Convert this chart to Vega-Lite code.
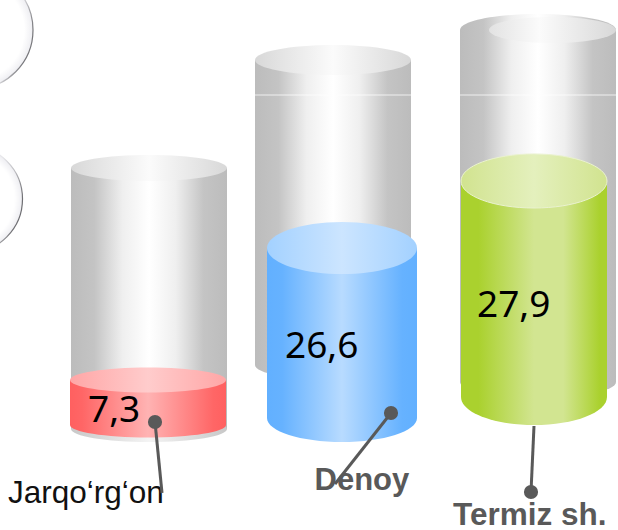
{"$schema":"https://vega.github.io/schema/vega-lite/v6.json","width":618,"height":530,"padding":0,"autosize":"none","background":"white","view":{"stroke":null},
"datasets":{"regions":[
{"region":"Jarqo‘rg‘on","value":7.3,"label":"7,3","grey_top":362,"grey_base":101,"fill_top":150,"fill_base":105,"seam":null},
{"region":"Denoy","value":26.6,"label":"26,6","grey_top":470,"grey_base":165,"fill_top":282,"fill_base":112,"seam":435},
{"region":"Termiz sh.","value":27.9,"label":"27,9","grey_top":500,"grey_base":148,"fill_top":349,"fill_base":133,"seam":435}],
"bubbles":[{"region":"Jarqo‘rg‘on","bubble":"a","level":500},{"region":"Jarqo‘rg‘on","bubble":"b","level":331}]},
"data":{"name":"regions"},
"encoding":{"x":{"field":"region","type":"nominal","axis":null,"scale":{"type":"point","domain":["Jarqo‘rg‘on","Denoy","Termiz sh."],"range":[149,538],"padding":0}}},
"layer":[
{"data":{"name":"bubbles"},"transform":[{"filter":"datum.bubble==='a'"}],"mark":{"type":"point","shape":"M-1,0A1,1 0 1 1 1,0A1,1 0 1 1 -1,0Z","size":13924,"xOffset":-175,"filled":true,"opacity":1,"strokeWidth":1.2,"fill":{"gradient":"radial","stops":[{"offset":0,"color":"#ffffff"},{"offset":0.85,"color":"#ffffff"},{"offset":1,"color":"#eeeef2"}]},"stroke":{"gradient":"linear","x1":0.5,"y1":0.35,"x2":1,"y2":0.5,"stops":[{"offset":0,"color":"#ffffff"},{"offset":0.45,"color":"#f0f0f0"},{"offset":0.75,"color":"#c8c8cc"},{"offset":1,"color":"#77777b"}]}},"encoding":{"y":{"field":"level","type":"quantitative","axis":null,"scale":{"domain":[0,530],"range":[530,0],"nice":false,"zero":false}}}},
{"data":{"name":"bubbles"},"transform":[{"filter":"datum.bubble==='b'"}],"mark":{"type":"point","shape":"M-1,0A1,1 0 1 1 1,0A1,1 0 1 1 -1,0Z","size":11449,"xOffset":-180,"filled":true,"opacity":1,"strokeWidth":1.2,"fill":{"gradient":"radial","stops":[{"offset":0,"color":"#ffffff"},{"offset":0.85,"color":"#ffffff"},{"offset":1,"color":"#eeeef2"}]},"stroke":{"gradient":"linear","x1":0.5,"y1":0.35,"x2":1,"y2":0.5,"stops":[{"offset":0,"color":"#ffffff"},{"offset":0.45,"color":"#e4e4e8"},{"offset":0.75,"color":"#b8b8bc"},{"offset":1,"color":"#6f6f73"}]}},"encoding":{"y":{"field":"level","type":"quantitative","axis":null,"scale":{"domain":[0,530],"range":[530,0],"nice":false,"zero":false}}}},

{"transform":[{"filter":"datum.region==='Jarqo‘rg‘on'"}],"layer":[
{"mark":{"type":"bar","size":156,"fill":{"gradient":"linear","x1":0,"y1":0,"x2":1,"y2":0,"stops":[{"offset":0,"color":"#bcbcbc"},{"offset":0.15,"color":"#c4c4c4"},{"offset":0.33,"color":"#efefef"},{"offset":0.5,"color":"#ffffff"},{"offset":0.67,"color":"#efefef"},{"offset":0.85,"color":"#c4c4c4"},{"offset":1,"color":"#bcbcbc"}]}},"encoding":{"y":{"field":"grey_top","type":"quantitative","axis":null,"scale":{"domain":[0,530],"range":[530,0],"nice":false,"zero":false}},"y2":{"field":"grey_base"}}},
{"mark":{"type":"point","shape":"M-1,0A1,0.167 0 1 1 1,0A1,0.167 0 1 1 -1,0Z","size":24336,"filled":true,"opacity":1,"strokeWidth":0,"fill":{"gradient":"linear","x1":0,"y1":0,"x2":1,"y2":0,"stops":[{"offset":0,"color":"#d8d8d8"},{"offset":0.5,"color":"#fbfbfb"},{"offset":1,"color":"#d8d8d8"}]}},"encoding":{"y":{"field":"grey_top","type":"quantitative","axis":null,"scale":{"domain":[0,530],"range":[530,0],"nice":false,"zero":false}}}},
{"mark":{"type":"point","shape":"M-1,0A1,0.167 0 1 1 1,0A1,0.167 0 1 1 -1,0Z","size":24336,"filled":true,"opacity":1,"strokeWidth":0,"fill":{"gradient":"linear","x1":0,"y1":0,"x2":1,"y2":0,"stops":[{"offset":0,"color":"#c8c8c8"},{"offset":0.5,"color":"#f4f4f4"},{"offset":1,"color":"#c8c8c8"}]}},"encoding":{"y":{"field":"grey_base","type":"quantitative","axis":null,"scale":{"domain":[0,530],"range":[530,0],"nice":false,"zero":false}}}}
]},
{"transform":[{"filter":"datum.region==='Denoy'"}],"layer":[
{"mark":{"type":"bar","size":156,"xOffset":-10.5,"fill":{"gradient":"linear","x1":0,"y1":0,"x2":1,"y2":0,"stops":[{"offset":0,"color":"#bcbcbc"},{"offset":0.15,"color":"#c4c4c4"},{"offset":0.33,"color":"#efefef"},{"offset":0.5,"color":"#ffffff"},{"offset":0.67,"color":"#efefef"},{"offset":0.85,"color":"#c4c4c4"},{"offset":1,"color":"#bcbcbc"}]}},"encoding":{"y":{"field":"grey_top","type":"quantitative","axis":null,"scale":{"domain":[0,530],"range":[530,0],"nice":false,"zero":false}},"y2":{"field":"grey_base"}}},
{"mark":{"type":"point","shape":"M-1,0A1,0.192 0 1 1 1,0A1,0.192 0 1 1 -1,0Z","size":24336,"xOffset":-10.5,"filled":true,"opacity":1,"strokeWidth":0,"fill":{"gradient":"linear","x1":0,"y1":0,"x2":1,"y2":0,"stops":[{"offset":0,"color":"#d8d8d8"},{"offset":0.5,"color":"#fbfbfb"},{"offset":1,"color":"#d8d8d8"}]}},"encoding":{"y":{"field":"grey_top","type":"quantitative","axis":null,"scale":{"domain":[0,530],"range":[530,0],"nice":false,"zero":false}}}},
{"mark":{"type":"point","shape":"M-1,0A1,0.192 0 1 1 1,0A1,0.192 0 1 1 -1,0Z","size":24336,"xOffset":-10.5,"filled":true,"opacity":1,"strokeWidth":0,"fill":{"gradient":"linear","x1":0,"y1":0,"x2":1,"y2":0,"stops":[{"offset":0,"color":"#bcbcbc"},{"offset":0.15,"color":"#c4c4c4"},{"offset":0.33,"color":"#efefef"},{"offset":0.5,"color":"#ffffff"},{"offset":0.67,"color":"#efefef"},{"offset":0.85,"color":"#c4c4c4"},{"offset":1,"color":"#bcbcbc"}]}},"encoding":{"y":{"field":"grey_base","type":"quantitative","axis":null,"scale":{"domain":[0,530],"range":[530,0],"nice":false,"zero":false}}}},
{"mark":{"type":"point","shape":"M-1,0L1,0","size":24336,"xOffset":-10.5,"filled":false,"opacity":0.75,"strokeWidth":1,"stroke":"#ffffff"},"encoding":{"y":{"field":"seam","type":"quantitative","axis":null,"scale":{"domain":[0,530],"range":[530,0],"nice":false,"zero":false}}}}
]},
{"transform":[{"filter":"datum.region==='Termiz sh.'"}],"layer":[
{"mark":{"type":"bar","size":156,"fill":{"gradient":"linear","x1":0,"y1":0,"x2":1,"y2":0,"stops":[{"offset":0,"color":"#bcbcbc"},{"offset":0.15,"color":"#c4c4c4"},{"offset":0.33,"color":"#efefef"},{"offset":0.5,"color":"#ffffff"},{"offset":0.67,"color":"#efefef"},{"offset":0.85,"color":"#c4c4c4"},{"offset":1,"color":"#bcbcbc"}]}},"encoding":{"y":{"field":"grey_top","type":"quantitative","axis":null,"scale":{"domain":[0,530],"range":[530,0],"nice":false,"zero":false}},"y2":{"field":"grey_base"}}},
{"mark":{"type":"point","shape":"M-1,0A1,0.205 0 1 1 1,0A1,0.205 0 1 1 -1,0Z","size":24336,"filled":true,"opacity":1,"strokeWidth":0,"fill":{"gradient":"linear","x1":0,"y1":0,"x2":1,"y2":0,"stops":[{"offset":0,"color":"#bcbcbc"},{"offset":0.15,"color":"#c4c4c4"},{"offset":0.33,"color":"#efefef"},{"offset":0.5,"color":"#ffffff"},{"offset":0.67,"color":"#efefef"},{"offset":0.85,"color":"#c4c4c4"},{"offset":1,"color":"#bcbcbc"}]}},"encoding":{"y":{"field":"grey_top","type":"quantitative","axis":null,"scale":{"domain":[0,530],"range":[530,0],"nice":false,"zero":false}}}},
{"mark":{"type":"point","shape":"M-1,0A1,0.205 0 1 1 1,0A1,0.205 0 1 1 -1,0Z","size":16129,"xOffset":14.5,"filled":true,"opacity":1,"strokeWidth":0,"fill":{"gradient":"linear","x1":0,"y1":0,"x2":1,"y2":0,"stops":[{"offset":0,"color":"#e2e2e2"},{"offset":0.4,"color":"#fbfbfb"},{"offset":1,"color":"#d8d8d8"}]}},"encoding":{"y":{"field":"grey_top","type":"quantitative","axis":null,"scale":{"domain":[0,530],"range":[530,0],"nice":false,"zero":false}}}},
{"mark":{"type":"point","shape":"M-1,0A1,0.205 0 1 1 1,0A1,0.205 0 1 1 -1,0Z","size":24336,"filled":true,"opacity":1,"strokeWidth":0,"fill":{"gradient":"linear","x1":0,"y1":0,"x2":1,"y2":0,"stops":[{"offset":0,"color":"#bcbcbc"},{"offset":0.15,"color":"#c4c4c4"},{"offset":0.33,"color":"#efefef"},{"offset":0.5,"color":"#ffffff"},{"offset":0.67,"color":"#efefef"},{"offset":0.85,"color":"#c4c4c4"},{"offset":1,"color":"#bcbcbc"}]}},"encoding":{"y":{"field":"grey_base","type":"quantitative","axis":null,"scale":{"domain":[0,530],"range":[530,0],"nice":false,"zero":false}}}},
{"mark":{"type":"point","shape":"M-1,0L1,0","size":24336,"filled":false,"opacity":0.75,"strokeWidth":1,"stroke":"#ffffff"},"encoding":{"y":{"field":"seam","type":"quantitative","axis":null,"scale":{"domain":[0,530],"range":[530,0],"nice":false,"zero":false}}}}
]},

{"transform":[{"filter":"datum.region==='Jarqo‘rg‘on'"}],"layer":[
{"mark":{"type":"point","shape":"M-1,0A1,0.16 0 1 1 1,0A1,0.16 0 1 1 -1,0Z","size":24336,"xOffset":-1,"filled":true,"opacity":1,"strokeWidth":0,"fill":{"gradient":"linear","x1":0,"y1":0,"x2":1,"y2":0,"stops":[{"offset":0,"color":"#ff6060"},{"offset":0.08,"color":"#ff6666"},{"offset":0.5,"color":"#ffb3b3"},{"offset":0.92,"color":"#ff6666"},{"offset":1,"color":"#ff6060"}]}},"encoding":{"y":{"field":"fill_base","type":"quantitative","axis":null,"scale":{"domain":[0,530],"range":[530,0],"nice":false,"zero":false}}}},
{"mark":{"type":"bar","size":156,"xOffset":-1,"fill":{"gradient":"linear","x1":0,"y1":0,"x2":1,"y2":0,"stops":[{"offset":0,"color":"#ff6060"},{"offset":0.08,"color":"#ff6666"},{"offset":0.5,"color":"#ffb3b3"},{"offset":0.92,"color":"#ff6666"},{"offset":1,"color":"#ff6060"}]}},"encoding":{"y":{"field":"fill_top","type":"quantitative","axis":null,"scale":{"domain":[0,530],"range":[530,0],"nice":false,"zero":false}},"y2":{"field":"fill_base"}}},
{"mark":{"type":"point","shape":"M-1,0A1,0.16 0 1 1 1,0A1,0.16 0 1 1 -1,0Z","size":24336,"xOffset":-1,"filled":true,"opacity":1,"strokeWidth":0,"fill":{"gradient":"linear","x1":0,"y1":0,"x2":1,"y2":0,"stops":[{"offset":0,"color":"#ffa6a6"},{"offset":0.5,"color":"#ffcccc"},{"offset":1,"color":"#ffa6a6"}]}},"encoding":{"y":{"field":"fill_top","type":"quantitative","axis":null,"scale":{"domain":[0,530],"range":[530,0],"nice":false,"zero":false}}}}
]},
{"transform":[{"filter":"datum.region==='Denoy'"}],"layer":[
{"mark":{"type":"point","shape":"M-1,0A1,0.32 0 1 1 1,0A1,0.32 0 1 1 -1,0Z","size":22500,"xOffset":-1.5,"filled":true,"opacity":1,"strokeWidth":0,"fill":{"gradient":"linear","x1":0,"y1":0,"x2":1,"y2":0,"stops":[{"offset":0,"color":"#62b0ff"},{"offset":0.1,"color":"#66b2ff"},{"offset":0.5,"color":"#b8dbff"},{"offset":0.9,"color":"#66b2ff"},{"offset":1,"color":"#62b0ff"}]}},"encoding":{"y":{"field":"fill_base","type":"quantitative","axis":null,"scale":{"domain":[0,530],"range":[530,0],"nice":false,"zero":false}}}},
{"mark":{"type":"bar","size":150,"xOffset":-1.5,"fill":{"gradient":"linear","x1":0,"y1":0,"x2":1,"y2":0,"stops":[{"offset":0,"color":"#62b0ff"},{"offset":0.1,"color":"#66b2ff"},{"offset":0.5,"color":"#b8dbff"},{"offset":0.9,"color":"#66b2ff"},{"offset":1,"color":"#62b0ff"}]}},"encoding":{"y":{"field":"fill_top","type":"quantitative","axis":null,"scale":{"domain":[0,530],"range":[530,0],"nice":false,"zero":false}},"y2":{"field":"fill_base"}}},
{"mark":{"type":"point","shape":"M-1,0A1,0.347 0 1 1 1,0A1,0.347 0 1 1 -1,0Z","size":22500,"xOffset":-1.5,"filled":true,"opacity":1,"strokeWidth":0,"fill":{"gradient":"linear","x1":0,"y1":0,"x2":1,"y2":0,"stops":[{"offset":0,"color":"#a3d1ff"},{"offset":0.5,"color":"#cce5ff"},{"offset":1,"color":"#a3d1ff"}]}},"encoding":{"y":{"field":"fill_top","type":"quantitative","axis":null,"scale":{"domain":[0,530],"range":[530,0],"nice":false,"zero":false}}}}
]},
{"transform":[{"filter":"datum.region==='Termiz sh.'"}],"layer":[
{"mark":{"type":"point","shape":"M-1,0A1,0.384 0 1 1 1,0A1,0.384 0 1 1 -1,0Z","size":21316,"xOffset":-4,"filled":true,"opacity":1,"strokeWidth":0,"fill":{"gradient":"linear","x1":0,"y1":0,"x2":1,"y2":0,"stops":[{"offset":0,"color":"#aad12e"},{"offset":0.12,"color":"#aad12e"},{"offset":0.5,"color":"#d2e591"},{"offset":0.7,"color":"#d2e591"},{"offset":0.95,"color":"#aad12e"},{"offset":1,"color":"#aad12e"}]}},"encoding":{"y":{"field":"fill_base","type":"quantitative","axis":null,"scale":{"domain":[0,530],"range":[530,0],"nice":false,"zero":false}}}},
{"mark":{"type":"bar","size":146,"xOffset":-4,"fill":{"gradient":"linear","x1":0,"y1":0,"x2":1,"y2":0,"stops":[{"offset":0,"color":"#aad12e"},{"offset":0.12,"color":"#aad12e"},{"offset":0.5,"color":"#d2e591"},{"offset":0.7,"color":"#d2e591"},{"offset":0.95,"color":"#aad12e"},{"offset":1,"color":"#aad12e"}]}},"encoding":{"y":{"field":"fill_top","type":"quantitative","axis":null,"scale":{"domain":[0,530],"range":[530,0],"nice":false,"zero":false}},"y2":{"field":"fill_base"}}},
{"mark":{"type":"point","shape":"M-1,0A1,0.37 0 1 1 1,0A1,0.37 0 1 1 -1,0Z","size":21316,"xOffset":-4,"filled":true,"opacity":1,"strokeWidth":1,"stroke":"#eaf2cf","fill":{"gradient":"linear","x1":0,"y1":0,"x2":1,"y2":0,"stops":[{"offset":0,"color":"#d1e38f"},{"offset":0.5,"color":"#e4f0bd"},{"offset":1,"color":"#d1e38f"}]}},"encoding":{"y":{"field":"fill_top","type":"quantitative","axis":null,"scale":{"domain":[0,530],"range":[530,0],"nice":false,"zero":false}}}}
]},

{"transform":[{"filter":"datum.region==='Jarqo‘rg‘on'"}],"layer":[
{"mark":{"type":"text","align":"left","baseline":"alphabetic","font":"Noto Sans","fontSize":37,"fill":"#000000","dx":-61,"dy":42},"encoding":{"text":{"field":"label"},"y":{"field":"fill_top","type":"quantitative","axis":null,"scale":{"domain":[0,530],"range":[530,0],"nice":false,"zero":false}}}},
{"mark":{"type":"text","align":"left","baseline":"alphabetic","font":"Liberation Sans","fontSize":31.5,"fill":"#111111","dx":-141,"dy":78},"encoding":{"text":{"field":"region"},"y":{"field":"fill_base","type":"quantitative","axis":null,"scale":{"domain":[0,530],"range":[530,0],"nice":false,"zero":false}}}},
{"mark":{"type":"point","shape":"M0,0L7,71","size":4,"xOffset":6,"yOffset":-3,"filled":false,"opacity":1,"strokeWidth":3,"stroke":"#595959"},"encoding":{"y":{"field":"fill_base","type":"quantitative","axis":null,"scale":{"domain":[0,530],"range":[530,0],"nice":false,"zero":false}}}},
{"mark":{"type":"circle","size":200,"xOffset":6,"yOffset":-3,"opacity":1,"color":"#595959"},"encoding":{"y":{"field":"fill_base","type":"quantitative","axis":null,"scale":{"domain":[0,530],"range":[530,0],"nice":false,"zero":false}}}}
]},
{"transform":[{"filter":"datum.region==='Denoy'"}],"layer":[
{"mark":{"type":"text","align":"left","baseline":"alphabetic","font":"Noto Sans","fontSize":37,"fill":"#000000","dx":-58.5,"dy":110},"encoding":{"text":{"field":"label"},"y":{"field":"fill_top","type":"quantitative","axis":null,"scale":{"domain":[0,530],"range":[530,0],"nice":false,"zero":false}}}},
{"mark":{"type":"text","align":"left","baseline":"alphabetic","font":"Liberation Sans","fontWeight":"bold","fontSize":31,"fill":"#595959","dx":-29,"dy":72},"encoding":{"text":{"field":"region"},"y":{"field":"fill_base","type":"quantitative","axis":null,"scale":{"domain":[0,530],"range":[530,0],"nice":false,"zero":false}}}},
{"mark":{"type":"point","shape":"M0,0L-56,71","size":4,"xOffset":47.5,"yOffset":-5,"filled":false,"opacity":1,"strokeWidth":3,"stroke":"#595959"},"encoding":{"y":{"field":"fill_base","type":"quantitative","axis":null,"scale":{"domain":[0,530],"range":[530,0],"nice":false,"zero":false}}}},
{"mark":{"type":"circle","size":200,"xOffset":47.5,"yOffset":-5,"opacity":1,"color":"#595959"},"encoding":{"y":{"field":"fill_base","type":"quantitative","axis":null,"scale":{"domain":[0,530],"range":[530,0],"nice":false,"zero":false}}}}
]},
{"transform":[{"filter":"datum.region==='Termiz sh.'"}],"layer":[
{"mark":{"type":"text","align":"left","baseline":"alphabetic","font":"Noto Sans","fontSize":37,"fill":"#000000","dx":-61,"dy":136},"encoding":{"text":{"field":"label"},"y":{"field":"fill_top","type":"quantitative","axis":null,"scale":{"domain":[0,530],"range":[530,0],"nice":false,"zero":false}}}},
{"mark":{"type":"text","align":"left","baseline":"alphabetic","font":"Liberation Sans","fontWeight":"bold","fontSize":31.5,"fill":"#595959","dx":-85,"dy":128},"encoding":{"text":{"field":"region"},"y":{"field":"fill_base","type":"quantitative","axis":null,"scale":{"domain":[0,530],"range":[530,0],"nice":false,"zero":false}}}},
{"mark":{"type":"point","shape":"M0,0L3,-66","size":4,"xOffset":-7,"yOffset":95,"filled":false,"opacity":1,"strokeWidth":3,"stroke":"#595959"},"encoding":{"y":{"field":"fill_base","type":"quantitative","axis":null,"scale":{"domain":[0,530],"range":[530,0],"nice":false,"zero":false}}}},
{"mark":{"type":"circle","size":200,"xOffset":-7,"yOffset":95,"opacity":1,"color":"#595959"},"encoding":{"y":{"field":"fill_base","type":"quantitative","axis":null,"scale":{"domain":[0,530],"range":[530,0],"nice":false,"zero":false}}}}
]}
]}
